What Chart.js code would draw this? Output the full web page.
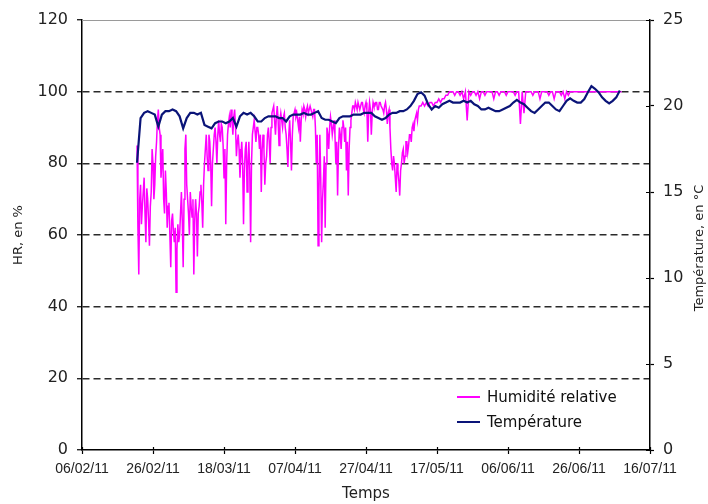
<!DOCTYPE html>
<html>
<head>
<meta charset="utf-8">
<script src="https://cdn.jsdelivr.net/npm/chart.js@4/dist/chart.umd.min.js"></script>
<style>
  html, body { margin: 0; padding: 0; background: #fff; }
  #wrap { position: relative; width: 708px; height: 504px; }
</style>
</head>
<body>
<div id="wrap"><canvas id="hrChart"></canvas></div>
<script>
// x axis = days since 06/02/11, one tick every 20 days
const dateLabels = ['06/02/11', '26/02/11', '18/03/11', '07/04/11', '27/04/11',
                    '17/05/11', '06/06/11', '26/06/11', '16/07/11'];

// relative humidity (%), every 6 h from 21/02/11 to 12/05/11 (the spiky part)
const rhStartDay = 15.5;
const rhStepDays = 0.25;
const rhValues = [
  85, 62, 49, 70, 74, 63, 68, 72, 76, 66, 58, 73, 70, 64, 57, 68, 72, 84, 80, 70,
  74, 82, 86, 92, 95, 90, 88, 76, 80, 84, 70, 66, 78, 72, 62, 68, 69, 60, 51, 64,
  66, 61, 58, 62, 44, 56, 63, 58, 60, 66, 72, 64, 51, 70, 84, 88, 74, 70, 66, 60,
  72, 68, 65, 70, 49, 64, 70, 66, 54, 66, 68, 72, 74, 69, 62, 74, 80, 84, 88, 82,
  78, 88, 86, 80, 68, 80, 84, 88, 90, 86, 80, 88, 92, 88, 86, 91, 90, 85, 76, 84,
  63, 80, 88, 91, 93, 90, 95, 92, 88, 93, 95, 90, 82, 86, 88, 84, 76, 82, 86, 80,
  63, 78, 84, 86, 72, 80, 86, 78, 58, 80, 88, 90, 92, 89, 86, 90, 90, 88, 84, 88,
  72, 84, 88, 84, 74, 80, 82, 88, 90, 86, 80, 90, 94, 95, 96, 92, 88, 93, 96, 92,
  85, 92, 94, 92, 90, 93, 94, 90, 88, 84, 79, 88, 92, 86, 78, 88, 93, 94, 95, 93,
  94, 92, 90, 93, 86, 92, 95, 94, 96, 95, 93, 95, 96, 94, 95, 96, 96, 94, 93, 95,
  95, 90, 80, 88, 57, 72, 88, 76, 58, 70, 75, 82, 62, 80, 90, 88, 84, 90, 93, 91,
  88, 90, 92, 88, 80, 86, 71, 84, 90, 88, 84, 90, 92, 90, 86, 90, 78, 86, 71, 84,
  90, 92, 94, 96, 96, 95, 97, 96, 95, 97, 97, 95, 96, 97, 97, 95, 94, 96, 97, 95,
  86, 94, 97, 95, 88, 94, 97, 96, 96, 97, 97, 95, 95, 97, 97, 96, 96, 95, 94, 96,
  97, 95, 91, 94, 95, 90, 84, 80, 78, 82, 80, 76, 72, 80, 78, 75, 71, 78, 80, 83,
  84, 80, 82, 86, 86, 83, 85, 88, 88, 86, 90, 91, 89, 92, 93, 94, 92, 95, 96
];

// relative humidity (%), every 12 h from 13/05/11 to 08/07/11
const rhLateStartDay = 95.5;
const rhLateStepDays = 0.5;
const rhLateValues = [
  96, 97, 96, 97, 96, 97, 97, 96, 97, 97,
  98, 97, 98, 98, 99, 99, 100, 100, 100, 99,
  100, 100, 99, 100, 98, 100, 92, 100, 99, 100,
  100, 99, 100, 98, 100, 100, 99, 100, 100, 100,
  100, 98, 100, 100, 99, 100, 100, 100, 99, 100,
  100, 100, 100, 99, 100, 100, 91, 100, 94, 100,
  100, 100, 100, 99, 100, 100, 100, 98, 100, 100,
  100, 100, 99, 100, 100, 98, 100, 100, 100, 99,
  100, 98, 100, 99, 100, 100, 100, 100, 100, 100,
  100, 100, 100, 100, 100, 100, 100, 100, 100, 100,
  100, 100, 100, 100, 100, 100, 100, 100, 100, 100,
  100, 100, 100, 100
];

// temperature (°C), one reading per day from 21/02/11
const tempStartDay = 15.5;
const tempStepDays = 1;
const tempValues = [
  16.7, 19.3, 19.6, 19.7, 19.6, 19.5, 18.8, 19.5, 19.7, 19.7,
  19.8, 19.7, 19.4, 18.7, 19.3, 19.6, 19.6, 19.5, 19.6, 18.9,
  18.8, 18.7, 19.0, 19.1, 19.1, 19.0, 19.1, 19.3, 18.8, 19.4,
  19.6, 19.5, 19.6, 19.4, 19.1, 19.1, 19.3, 19.4, 19.4, 19.4,
  19.3, 19.3, 19.1, 19.4, 19.5, 19.5, 19.5, 19.6, 19.5, 19.5,
  19.6, 19.7, 19.3, 19.2, 19.2, 19.1, 19.0, 19.3, 19.4, 19.4,
  19.4, 19.5, 19.5, 19.5, 19.6, 19.6, 19.6, 19.4, 19.3, 19.2,
  19.3, 19.5, 19.6, 19.6, 19.7, 19.7, 19.8, 20.0, 20.3, 20.7,
  20.8, 20.6, 20.1, 19.8, 20.0, 19.9, 20.1, 20.2, 20.3, 20.2,
  20.2, 20.2, 20.3, 20.2, 20.3, 20.1, 20.0, 19.8, 19.8, 19.9,
  19.8, 19.7, 19.7, 19.8, 19.9, 20.0, 20.2, 20.35, 20.2, 20.1,
  19.9, 19.7, 19.6, 19.8, 20.0, 20.2, 20.2, 20.0, 19.8, 19.7,
  20.0, 20.3, 20.45, 20.3, 20.2, 20.2, 20.4, 20.8, 21.15, 21.0,
  20.8, 20.5, 20.3, 20.15, 20.3, 20.5, 20.9
];

const rhLabel = 'Humidité relative';
const tempLabel = 'Température';
const rhColor = '#ff00ff';
const tempColor = '#0a1478';

function toPoints(start, step, values) {
  return values.map((v, i) => ({ x: start + i * step, y: v }));
}

// top frame line, inner halves of the crossing ticks, right title, legend
const decorPlugin = {
  id: 'decor',
  afterDraw(chart) {
    const ctx = chart.ctx;
    const area = chart.chartArea;
    const yR = chart.scales.yR;
    const x = chart.scales.x;

    ctx.save();
    ctx.strokeStyle = '#9a9a9a';
    ctx.lineWidth = 1;
    ctx.beginPath();
    ctx.moveTo(area.left, area.top + 0.5);
    ctx.lineTo(area.right, area.top + 0.5);
    ctx.stroke();

    ctx.strokeStyle = '#000';
    ctx.lineWidth = 1.2;
    ctx.beginPath();
    yR.ticks.forEach(t => {
      const py = Math.round(yR.getPixelForValue(t.value)) + 0.5;
      ctx.moveTo(area.right - 4, py);
      ctx.lineTo(area.right, py);
    });
    x.ticks.forEach(t => {
      const px = Math.round(x.getPixelForValue(t.value)) + 0.5;
      ctx.moveTo(px, area.bottom - 3);
      ctx.lineTo(px, area.bottom);
    });
    ctx.stroke();

    ctx.fillStyle = '#222';
    ctx.font = '13px "DejaVu Sans"';
    ctx.textAlign = 'center';
    ctx.textBaseline = 'middle';
    ctx.translate(700, 248);
    ctx.rotate(-Math.PI / 2);
    ctx.fillText('Température, en °C', 0, 0);
    ctx.restore();

    ctx.save();
    ctx.font = '15px "DejaVu Sans"';
    ctx.textAlign = 'left';
    ctx.textBaseline = 'middle';
    const rows = [[rhLabel, rhColor, 397], [tempLabel, tempColor, 422]];
    rows.forEach(([text, color, ly]) => {
      ctx.strokeStyle = color;
      ctx.lineWidth = 2;
      ctx.beginPath();
      ctx.moveTo(457, ly);
      ctx.lineTo(480, ly);
      ctx.stroke();
      ctx.fillStyle = '#111';
      ctx.fillText(text, 487, ly + 1);
    });
    ctx.restore();
  }
};

function initChart() {
  const ctx = document.getElementById('hrChart').getContext('2d');
  Chart.defaults.font.family = '"DejaVu Sans"';
  Chart.defaults.color = '#222';

  const rhPoints = toPoints(rhStartDay, rhStepDays, rhValues)
    .concat(toPoints(rhLateStartDay, rhLateStepDays, rhLateValues));

  new Chart(ctx, {
    type: 'line',
    data: {
      datasets: [
        {
          label: rhLabel,
          data: rhPoints,
          yAxisID: 'y',
          borderColor: rhColor,
          borderWidth: 1.5,
          pointRadius: 0,
          tension: 0,
          order: 1
        },
        {
          label: tempLabel,
          data: toPoints(tempStartDay, tempStepDays, tempValues),
          yAxisID: 'yR',
          borderColor: tempColor,
          borderWidth: 2.2,
          pointRadius: 0,
          tension: 0,
          order: 0
        }
      ]
    },
    options: {
      responsive: true,
      maintainAspectRatio: false,
      animation: false,
      layout: { padding: { top: 20, left: 0, right: 0, bottom: 0 } },
      plugins: { legend: { display: false }, tooltip: { enabled: false } },
      scales: {
        x: {
          type: 'linear',
          min: 0,
          max: 160,
          afterFit: s => { s.height = 54; },
          ticks: {
            stepSize: 20,
            autoSkip: false,
            maxRotation: 0,
            padding: 7,
            font: { family: '"Liberation Sans"', size: 14 },
            callback: v => dateLabels[Math.round(v / 20)]
          },
          grid: { drawOnChartArea: false, tickLength: 4, tickColor: '#000', tickWidth: 1.2 },
          border: { color: '#000', width: 1.5 },
          title: {
            display: true,
            text: 'Temps',
            font: { size: 15 },
            padding: { top: 0, bottom: 1 }
          }
        },
        y: {
          position: 'left',
          min: 0,
          max: 120,
          afterFit: s => { s.width = 82; },
          ticks: { stepSize: 20, padding: 9, font: { size: 16 } },
          grid: {
            color: c => (c.tick.value === 0 || c.tick.value === 120) ? 'rgba(0,0,0,0)' : '#2a2a2a',
            lineWidth: 1.5,
            tickLength: 5,
            tickColor: '#000',
            tickWidth: 1.2
          },
          border: { color: '#000', width: 1.5, dash: [7, 4] },
          title: {
            display: true,
            text: 'HR, en %',
            font: { size: 13 },
            padding: { top: 11, bottom: 0 }
          }
        },
        yR: {
          position: 'right',
          min: 0,
          max: 25,
          afterFit: s => { s.width = 58; },
          ticks: { stepSize: 5, padding: 9, font: { size: 16 } },
          grid: { drawOnChartArea: false, tickLength: 4, tickColor: '#000', tickWidth: 1.2 },
          border: { color: '#000', width: 1.5 }
        }
      }
    },
    plugins: [decorPlugin]
  });
}

document.addEventListener('DOMContentLoaded', initChart);
</script>
</body>
</html>
